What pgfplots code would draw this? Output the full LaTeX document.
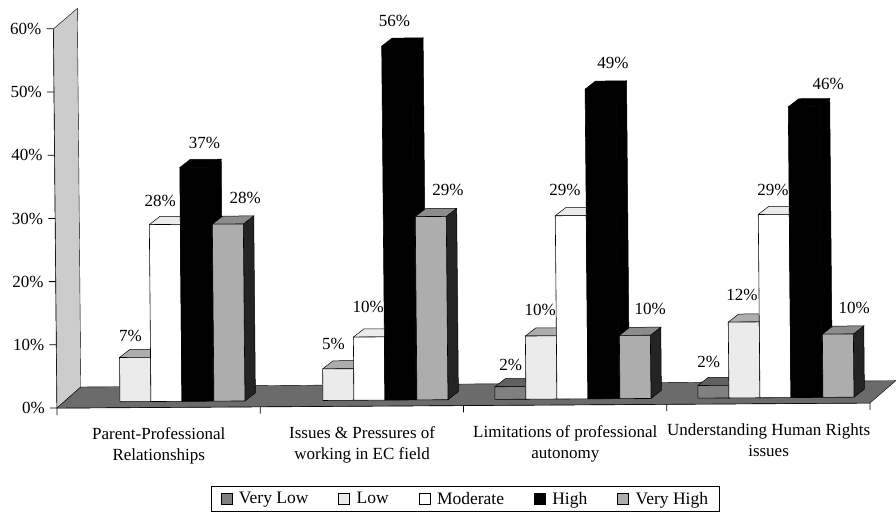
\documentclass[border=0pt]{standalone}
\usepackage{pgfplots}
\pgfplotsset{compat=1.18}
\usepackage{fontspec}
\setmainfont{Liberation Serif}
\definecolor{wallc}{gray}{0.80}
\definecolor{floorc}{gray}{0.42}
\definecolor{vlow}{gray}{0.50}
\definecolor{vlowtop}{gray}{0.38}
\definecolor{lowc}{gray}{0.92}
\definecolor{lowtop}{gray}{0.68}
\definecolor{vhigh}{gray}{0.68}
\definecolor{vhightop}{gray}{0.55}
\definecolor{darkside}{gray}{0.14}
% #1 x, #2 value, #3 front, #4 top, #5 side
\newcommand\tdbar[5]{%
  \pgfmathsetmacro\xa{#1}\pgfmathsetmacro\xb{#1+31}%
  \pgfmathsetmacro\xc{#1+10.5}\pgfmathsetmacro\xd{#1+41.5}%
  \pgfmathsetmacro\ya{0.93}\pgfmathsetmacro\yb{0.93+#2}%
  \pgfmathsetmacro\yc{2.2}\pgfmathsetmacro\yd{2.2+#2}%
  \addplot[fill=#5,draw=black,line width=0.5pt,forget plot] coordinates {(\xb,\ya) (\xd,\yc) (\xd,\yd) (\xb,\yb) (\xb,\ya)};
  \addplot[fill=#4,draw=black,line width=0.5pt,forget plot] coordinates {(\xa,\yb) (\xb,\yb) (\xd,\yd) (\xc,\yd) (\xa,\yb)};
  \addplot[fill=#3,draw=black,line width=0.6pt,forget plot] coordinates {(\xa,\ya) (\xb,\ya) (\xb,\yb) (\xa,\yb) (\xa,\ya)};
}
\begin{document}
\begin{tikzpicture}[x=1pt,y=1pt]
\path[use as bounding box] (0,0) rectangle (896,515);
\begin{axis}[
  at={(57pt,107pt)},anchor=origin,
  x={(1pt,0.0062pt)},y={(-0.058pt,6.32pt)},
  xmin=0,xmax=813,ymin=0,ymax=60,
  clip=false,
  axis lines=left,
  axis line style={-,line width=0.9pt,black},
  tick style={black,line width=0.8pt},
  tick align=outside,
  major tick length=7pt,
  ytick={0,10,20,30,40,50,60},
  yticklabel={\pgfmathprintnumber{\tick}\%},
  yticklabel style={/pgf/number format/assume math mode=true,font=\fontsize{17}{19}\selectfont,inner sep=0pt,xshift=-5pt},
  xtick={0,203.25,406.5,609.75,813},
  xticklabels={},
  extra x ticks={101.6,304.9,508.1,711.4},
  extra x tick labels={{Parent-Professional\\Relationships},{Issues \& Pressures of\\working in EC field},{Limitations of professional\\autonomy},{Understanding Human Rights\\issues}},
  extra x tick style={major tick length=0pt,
    tick label style={align=center,font=\fontsize{17}{21}\selectfont,yshift=-17pt}},
  legend image code/.code={\draw[#1,draw=black,line width=0.5pt] (0pt,-5.5pt) rectangle (11pt,5.5pt);\path[draw=none,fill=none] (0pt,0pt) -- (16pt,0pt);},
  legend columns=5,
  legend style={at={(axis cs:407.5,-14.8)},anchor=center,draw=black,line width=0.7pt,
    font=\fontsize{17.5}{19}\selectfont,inner xsep=9pt,inner ysep=4pt,
    /tikz/every even column/.append style={column sep=28pt}},
]
\addlegendimage{fill=vlow}\addlegendentry{Very Low}
\addlegendimage{fill=lowc}\addlegendentry{Low}
\addlegendimage{fill=white}\addlegendentry{Moderate}
\addlegendimage{fill=black}\addlegendentry{High}
\addlegendimage{fill=vhigh}\addlegendentry{Very High}
% side wall and floor
\addplot[fill=wallc,draw=black,line width=0.4pt,forget plot] coordinates {(0,0) (0,60) (24,63.2) (24,3.3) (0,0)};
\addplot[fill=floorc,draw=black,line width=0.4pt,forget plot] coordinates {(0,0) (813,0) (839,3.5) (24,3.3) (0,0)};
% group 1
\tdbar{63}{7}{lowc}{lowtop}{lowtop}
\tdbar{94}{28}{white}{lowc}{white}
\tdbar{125}{37}{black}{black}{black}
\tdbar{157}{28}{vhigh}{vhightop}{darkside}
% group 2
\tdbar{266}{5}{lowc}{lowtop}{lowtop}
\tdbar{297}{10}{white}{lowc}{white}
\tdbar{328}{56}{black}{black}{black}
\tdbar{360}{29}{vhigh}{vhightop}{darkside}
% group 3
\tdbar{438}{2}{vlow}{vlowtop}{vlowtop}
\tdbar{469}{10}{lowc}{lowtop}{lowtop}
\tdbar{500}{29}{white}{lowc}{white}
\tdbar{531}{49}{black}{black}{black}
\tdbar{563}{10}{vhigh}{vhightop}{darkside}
% group 4
\tdbar{641}{2}{vlow}{vlowtop}{vlowtop}
\tdbar{672}{12}{lowc}{lowtop}{lowtop}
\tdbar{703}{29}{white}{lowc}{white}
\tdbar{734}{46}{black}{black}{black}
\tdbar{766}{10}{vhigh}{vhightop}{darkside}
% value labels, last so that they lie over the bars
\addplot[forget plot,draw=none,mark=none,only marks,
  point meta=explicit symbolic,
  nodes near coords={\pgfplotspointmeta\%},
  nodes near coords style={anchor=center,inner sep=0pt,black,font=\fontsize{17}{19}\selectfont}]
  table[x=x,y=y,meta=v] {
x y v
74 11.3 7
105 32.65 28
150 41.8 37
190 33.04 28
277 9.85 5
312 15.7 10
341 60.9 56
393 34.1 29
454 6.36 2
484 15.1 10
510 34 29
559 54 49
594 15.1 10
652 6.65 2
686 17.2 12
718 33.8 29
774 50.5 46
798 15.05 10
};
\end{axis}
\end{tikzpicture}
\end{document}
